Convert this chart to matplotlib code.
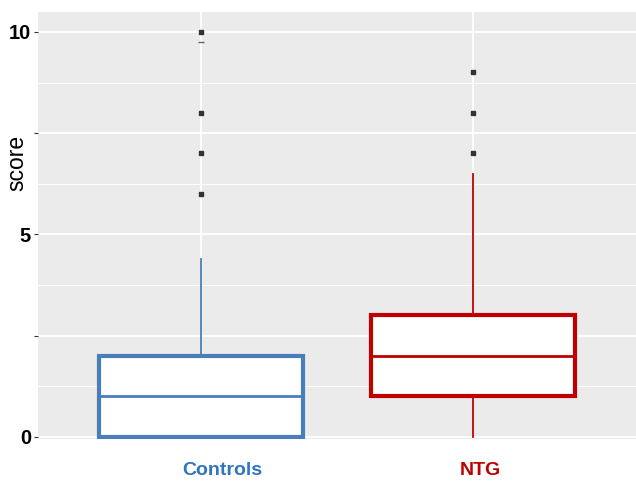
import matplotlib.pyplot as plt
from matplotlib.ticker import MultipleLocator

# box summaries
groups = ['Controls', 'NTG']
q1 = [0, 1]
median = [1, 2]
q3 = [2, 3]
whisker_lo = [0, 0]
whisker_hi = [4.4, 6.5]
outliers = [[6, 7, 8, 10], [7, 8, 9]]
colors = ['#4a7ebb', '#c00000']
label_colors = ['#2e75c0', '#c00000']
label_x = [1.077, 2.026]

# small dash just under the top Controls outlier
dash_x = [1]
dash_y = [9.75]

fig = plt.figure(figsize=(6.36, 4.82), dpi=100)
ax = fig.add_axes([0.0597, 1 - 439 / 482, 0.9403, (439 - 11.7) / 482])
ax.set_facecolor('#EBEBEB')
for s in ax.spines.values():
    s.set_visible(False)

ax.set_ylim(-0.05, 10.5)
ax.set_xlim(0.4, 2.6)
ax.yaxis.set_major_locator(MultipleLocator(2.5))
ax.yaxis.set_minor_locator(MultipleLocator(1.25))
ax.grid(which='major', color='white', lw=1.3)
ax.grid(which='minor', axis='y', color='white', lw=0.7)
ax.set_axisbelow(True)

for i, g in enumerate(groups):
    stats = [dict(med=median[i], q1=q1[i], q3=q3[i],
                  whislo=whisker_lo[i], whishi=whisker_hi[i],
                  fliers=outliers[i], label=g)]
    ax.bxp(stats, positions=[i + 1], widths=0.75, showcaps=False,
           patch_artist=True,
           boxprops=dict(facecolor='white', edgecolor=colors[i], lw=3),
           medianprops=dict(color=colors[i], lw=2),
           whiskerprops=dict(color=colors[i], lw=1.3),
           flierprops=dict(marker='s', markersize=3,
                           markerfacecolor='#333333',
                           markeredgecolor='#333333'))

ax.plot(dash_x, dash_y, marker='_', markersize=4, color='#666666',
        linestyle='none', zorder=3)

ax.set_xticks([1, 2])
ax.set_xticklabels([])
ax.tick_params(axis='x', length=0)
for g, x, c in zip(groups, label_x, label_colors):
    ax.text(x, -0.073, g, transform=ax.get_xaxis_transform(),
            ha='center', va='center', fontsize=14, fontweight='bold',
            color=c, family='Liberation Sans')

ax.set_yticks([0, 2.5, 5, 7.5, 10])
ax.set_yticklabels(['0', '', '5', '', '10'], fontsize=14.5,
                   fontweight='bold', family='Liberation Sans')
ax.tick_params(axis='y', which='major', length=3, color='#333333', pad=2)
ax.tick_params(axis='y', which='minor', length=0)
ax.set_ylabel('score', fontsize=16.5, family='Liberation Sans')
ax.yaxis.set_label_coords(-0.016, 0.645)

plt.savefig('out.png', dpi=100)
plt.close()
